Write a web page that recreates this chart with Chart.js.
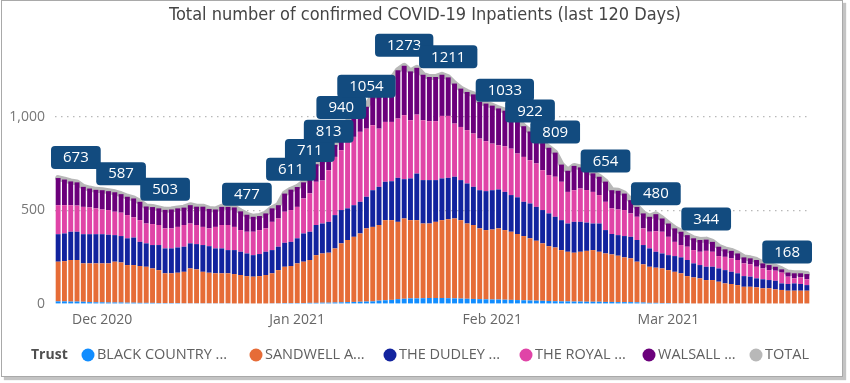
<!DOCTYPE html>
<html><head><meta charset="utf-8">
<script src="https://cdn.jsdelivr.net/npm/chart.js@4.4.1/dist/chart.umd.min.js"></script>
<style>
html,body{margin:0;padding:0;background:#fff;}
#wrap{position:absolute;left:0;top:0;width:850px;height:383px;overflow:hidden;}
#frame{position:absolute;left:1px;top:0;width:842px;height:377px;box-sizing:border-box;border:1px solid #a9a9a9;box-shadow:3px 3px 1px #c4c4c4;}
canvas{position:absolute;left:0;top:0;}
</style></head><body>
<div id="wrap"><div id="frame"></div><canvas id="c" width="850" height="383"></canvas></div>
<script>
// ---- data ----
const startDate = '2020-11-24';
const dayCount = 120;
const seriesNames = ['BLACK COUNTRY ...','SANDWELL A...','THE DUDLEY ...','THE ROYAL ...','WALSALL ...'];
const totalName = 'TOTAL';
const blackCountry = [14,14,13,13,12,10,9,9,8,8,8,7,7,6,6,6,5,
  5,5,5,4,4,4,4,4,4,4,4,3,3,3,3,3,3,
  4,4,5,5,5,5,6,6,7,7,8,9,10,11,12,13,14,
  18,20,22,26,28,30,30,31,32,32,32,31,30,29,28,27,26,25,
  24,24,23,22,21,20,19,18,17,16,15,14,14,13,13,12,12,
  12,11,11,10,10,10,9,8,6,6,5,5,4,4,4,3,3,
  3,3,3,3,3,3,3,3,3,3,3,3,3,3,3,3,3];
const sandwell = [212,215,222,222,205,207,208,208,209,218,214,201,201,197,193,184,176,
  159,159,162,168,186,181,168,163,160,160,160,157,152,146,143,146,152,
  160,177,194,198,212,221,229,255,263,267,289,315,332,348,365,391,398,
  404,428,426,413,429,418,418,399,398,407,416,422,427,419,402,395,378,370,
  374,380,372,364,353,343,332,320,307,293,287,274,265,261,266,272,276,
  267,259,254,248,239,234,217,204,193,188,185,176,168,160,145,139,134,
  125,125,116,107,104,98,89,89,86,81,81,75,72,68,68,68,68];
const dudley = [147,148,151,151,156,156,156,156,153,142,141,143,147,129,125,125,134,
  133,133,135,134,134,135,143,142,133,133,124,128,124,121,115,118,124,
  124,125,128,129,134,151,151,161,160,165,178,178,169,169,169,169,196,
  204,205,208,235,210,223,249,232,232,223,223,221,223,214,214,204,204,208,
  210,208,204,196,196,183,186,181,178,175,164,160,151,165,160,151,142,
  151,125,109,110,114,115,116,103,98,85,80,80,84,85,86,75,71,
  71,71,71,71,65,63,57,54,48,48,44,46,35,36,39,36,30];
const royal = [155,151,142,140,146,143,138,132,132,125,125,124,108,116,106,112,107,
  107,107,110,116,106,102,97,95,115,125,134,124,116,116,125,128,125,
  151,151,166,170,168,187,205,231,230,276,311,320,364,365,374,364,347,
  311,320,317,317,342,311,315,320,315,315,334,331,284,284,285,285,276,267,
  249,236,244,248,234,240,231,232,213,205,214,205,169,169,178,174,169,
  152,151,137,137,139,125,124,89,89,110,116,98,76,66,71,71,71,
  85,80,66,71,72,71,68,66,62,58,53,54,58,39,27,35,31];
const walsall = [145,137,127,124,107,101,99,103,101,104,99,98,101,98,91,91,89,
  99,101,99,93,98,98,108,104,93,97,97,104,100,91,80,75,80,
  72,71,97,109,106,86,120,94,100,98,64,118,100,107,110,117,160,
  173,177,227,258,264,261,250,243,236,236,220,206,214,205,204,209,196,201,
  203,197,190,180,181,164,154,134,145,146,129,92,113,130,113,103,99,
  98,108,97,100,88,71,53,80,80,91,71,71,72,71,62,63,63,
  60,53,50,40,40,35,32,32,36,27,27,21,17,22,27,22,28];
const labelIndex = [0,10,17,30,37,40,43,45,49,55,62,71,75,79,87,95,103,116];
const xTickDates = ['2020-12-01','2021-01-01','2021-02-01','2021-03-01'];
const xTickLabels = ['Dec 2020','Jan 2021','Feb 2021','Mar 2021'];
const yTicks = [0,500,1000];
const yMax = 1400;

const colors = ['#118DFF','#E66C37','#12239E','#E044A7','#6B007B'];
const totalColor = '#b8b8b8';

// categories
const dates = [];
{ const d0 = new Date(startDate + 'T00:00:00Z');
  for (let i = 0; i < dayCount; i++) { const d = new Date(d0.getTime() + i*86400000); dates.push(d.toISOString().slice(0,10)); } }
const series = [blackCountry, sandwell, dudley, royal, walsall];
const total = dates.map((_, i) => series.reduce((s, a) => s + a[i], 0));

const FONT = '"Segoe UI", "Open Sans", sans-serif';

const overlay = {
  id: 'overlay',
  afterDatasetsDraw(chart) {
    const {ctx, chartArea} = chart;
    const xs = chart.scales.x, ys = chart.scales.y;
    ctx.save();
    ctx.font = '15px ' + FONT;
    ctx.textAlign = 'center';
    ctx.textBaseline = 'middle';
    labelIndex.forEach(i => {
      const x = xs.getPixelForValue(i), y = ys.getPixelForValue(total[i]);
      const t = String(total[i]);
      const w = ctx.measureText(t).width + 24, h = 23;
      let left = x - w/2;
      if (left < chartArea.left - 4) left = chartArea.left - 4;
      if (left + w > chartArea.right + 2) left = chartArea.right + 2 - w;
      const top = y - 9 - h;
      ctx.fillStyle = '#124b7f';
      ctx.beginPath();
      ctx.roundRect(left, top, w, h, 4);
      ctx.fill();
      ctx.fillStyle = '#ffffff';
      ctx.fillText(t, left + w/2, top + h/2 + 0.5);
    });
    ctx.restore();
  },
  afterDraw(chart) {
    const ctx = chart.ctx;
    ctx.save();
    // title
    ctx.fillStyle = '#454545';
    ctx.font = '18px "Liberation Sans Narrow", "DejaVu Sans Condensed", sans-serif';
    ctx.textAlign = 'center';
    ctx.textBaseline = 'middle';
    ctx.fillText('Total number of confirmed COVID-19 Inpatients (last 120 Days)', 425, 15);
    // legend
    const ly = 355;
    ctx.textAlign = 'left';
    ctx.font = 'bold 14px ' + FONT;
    ctx.fillStyle = '#505050';
    ctx.fillText('Trust', 31, ly);
    const cxs = [88, 256, 390, 526, 649, 756];
    const names = seriesNames.concat([totalName]);
    const cols = colors.concat([totalColor]);
    ctx.font = '14.5px ' + FONT;
    names.forEach((n, k) => {
      ctx.fillStyle = cols[k];
      ctx.beginPath(); ctx.arc(cxs[k], ly, 6.5, 0, Math.PI*2); ctx.fill();
      ctx.fillStyle = '#606060';
      ctx.fillText(n, cxs[k] + 9, ly);
    });
    ctx.restore();
  }
};

const datasets = [{
  type: 'line', label: totalName, data: total, borderColor: totalColor, borderWidth: 6,
  pointRadius: 0, tension: 0, order: 2, stack: 'total', borderJoinStyle: 'round', borderCapStyle: 'round'
}].concat(series.map((arr, k) => ({
  type: 'bar', label: seriesNames[k], data: arr, backgroundColor: colors[k], borderWidth: 0,
  barPercentage: 0.78, categoryPercentage: 1.0, order: 1, stack: 'trust'
})));

const tickIdx = xTickDates.map(d => dates.indexOf(d));

new Chart(document.getElementById('c'), {
  data: { labels: dates, datasets },
  options: {
    responsive: false, animation: false, events: [],
    layout: { padding: { left: 0, right: 40, top: 42, bottom: 0 } },
    plugins: { legend: { display: false }, title: { display: false }, tooltip: { enabled: false } },
    scales: {
      x: {
        stacked: true,
        grid: { display: false, drawTicks: false },
        border: { display: false },
        ticks: {
          autoSkip: false, maxRotation: 0, minRotation: 0, padding: 8,
          color: '#666666', font: { family: FONT, size: 14 },
          callback: (v, i) => { const k = tickIdx.indexOf(i); return k >= 0 ? xTickLabels[k] : ''; }
        },
        afterFit: s => { s.height = 79; }
      },
      y: {
        stacked: true, min: 0, max: yMax,
        afterBuildTicks: s => { s.ticks = yTicks.map(v => ({ value: v })); },
        grid: { drawTicks: false, lineWidth: 1.2,
          color: c => (c.tick && c.tick.value === 0) ? 'rgba(0,0,0,0)' : '#b9b9b9' },
        border: { display: false, dash: [1.5, 4.5] },
        ticks: { padding: 10, color: '#777777', font: { family: FONT, size: 14 },
          callback: v => Number(v).toLocaleString('en-US') },
        afterFit: s => { s.width = 55; }
      }
    }
  },
  plugins: [overlay]
});
</script>
</body></html>
